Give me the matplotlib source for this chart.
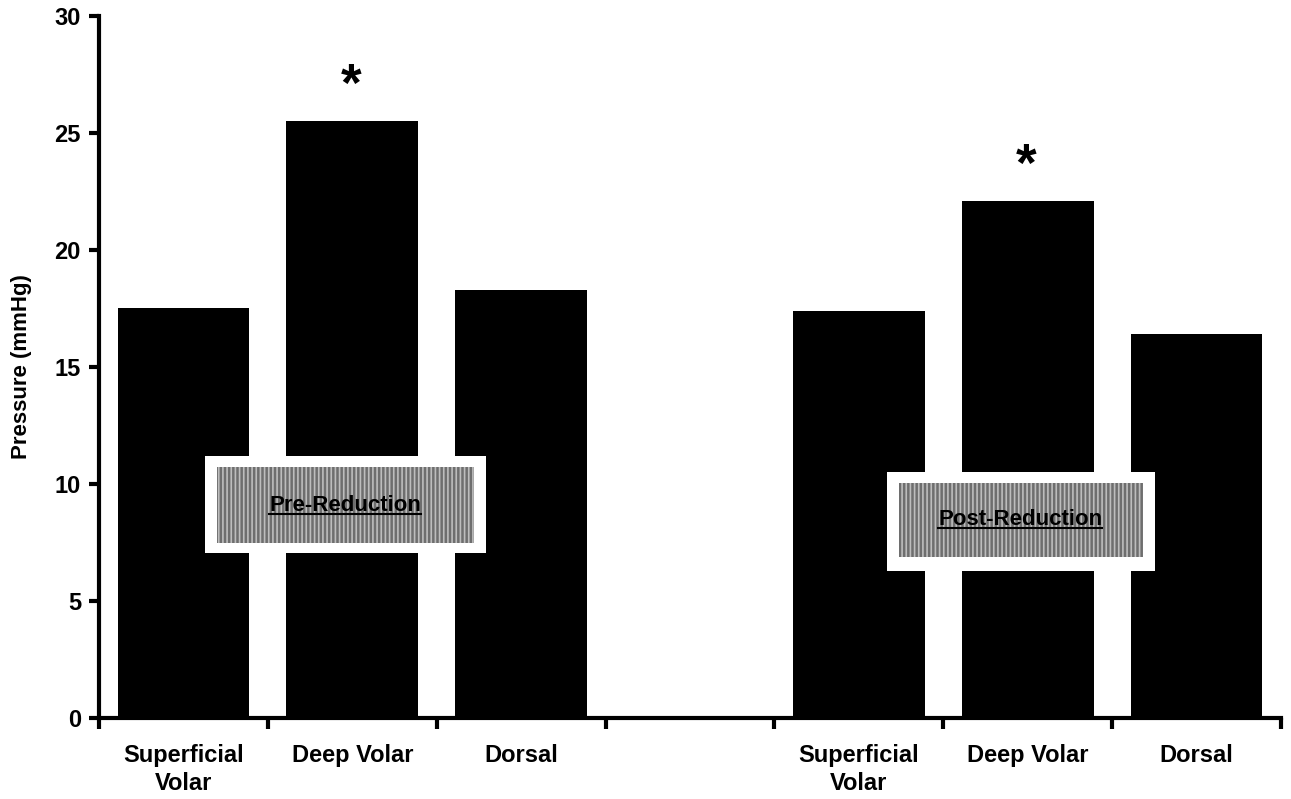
import matplotlib.pyplot as plt
from matplotlib.patches import Rectangle

plt.rcParams['font.family'] = ['Liberation Sans', 'DejaVu Sans']
plt.rcParams['font.weight'] = 'bold'
plt.rcParams['hatch.linewidth'] = 1.2

groups = ['Pre-Reduction', 'Post-Reduction']
sites = ['Superficial\nVolar', 'Deep Volar', 'Dorsal']
pre_vals = [17.5, 25.5, 18.3]
post_vals = [17.4, 22.1, 16.4]
signif = ['Deep Volar']

fig = plt.figure(figsize=(12.91, 7.99), dpi=100)
ax = fig.add_axes([0.0767, 0.1014, 0.9156, 0.8786])

# slots 0-2 pre, slot 3 empty, 4-6 post
pos_pre = [0.5, 1.5, 2.5]
pos_post = [4.5, 5.5, 6.5]
ax.bar(pos_pre, pre_vals, width=0.78, color='black')
ax.bar(pos_post, post_vals, width=0.78, color='black')

for p, v, s in zip(pos_pre + pos_post, pre_vals + post_vals, sites + sites):
    if s in signif:
        ax.text(p - 0.01, v + 1.45, '*', ha='center', va='center',
                fontsize=38, fontweight='bold')

ax.set_xlim(0, 7)
ax.set_ylim(0, 30)
ax.set_yticks([0, 5, 10, 15, 20, 25, 30])
ax.set_xticks(range(8))
ax.set_xticklabels([])
ax.set_xticks(pos_pre + pos_post, minor=True)
ax.set_xticklabels(sites + sites, minor=True, fontsize=17, fontweight='bold',
                   linespacing=1.25)
ax.tick_params(axis='x', which='minor', length=0, pad=19)
ax.tick_params(axis='x', which='major', length=8, width=3, direction='out')
ax.tick_params(axis='y', length=7, width=3, labelsize=17, pad=6)
for sp in ['top', 'right']:
    ax.spines[sp].set_visible(False)
for sp in ['left', 'bottom']:
    ax.spines[sp].set_linewidth(3)
ax.set_ylabel('Pressure (mmHg)', fontsize=16, fontweight='bold', labelpad=16)

# labelled boxes
boxes = [
    (groups[0], (0.628, 7.05, 1.665, 4.15), (0.699, 7.48, 1.523, 3.25), (1.457, 9.1)),
    (groups[1], (4.668, 6.28, 1.588, 4.23), (4.739, 6.88, 1.446, 3.16), (5.456, 8.5)),
]
for name, outer, inner, tp in boxes:
    ax.add_patch(Rectangle(outer[:2], outer[2], outer[3], facecolor='white',
                           edgecolor='none', zorder=3))
    ax.add_patch(Rectangle(inner[:2], inner[2], inner[3], facecolor='#6e6e6e',
                           edgecolor='#bdbdbd', hatch='||||', linewidth=0, zorder=4))
    t = ax.text(tp[0], tp[1], name, ha='center', va='center', fontsize=16,
                fontweight='bold', zorder=5)
    fig.canvas.draw()
    bb = t.get_window_extent().transformed(ax.transData.inverted())
    ax.plot([bb.x0, bb.x1], [bb.y0 + 0.05, bb.y0 + 0.05], color='black', lw=1.5,
            zorder=5, clip_on=False)

fig.savefig('out.png', dpi=100)
